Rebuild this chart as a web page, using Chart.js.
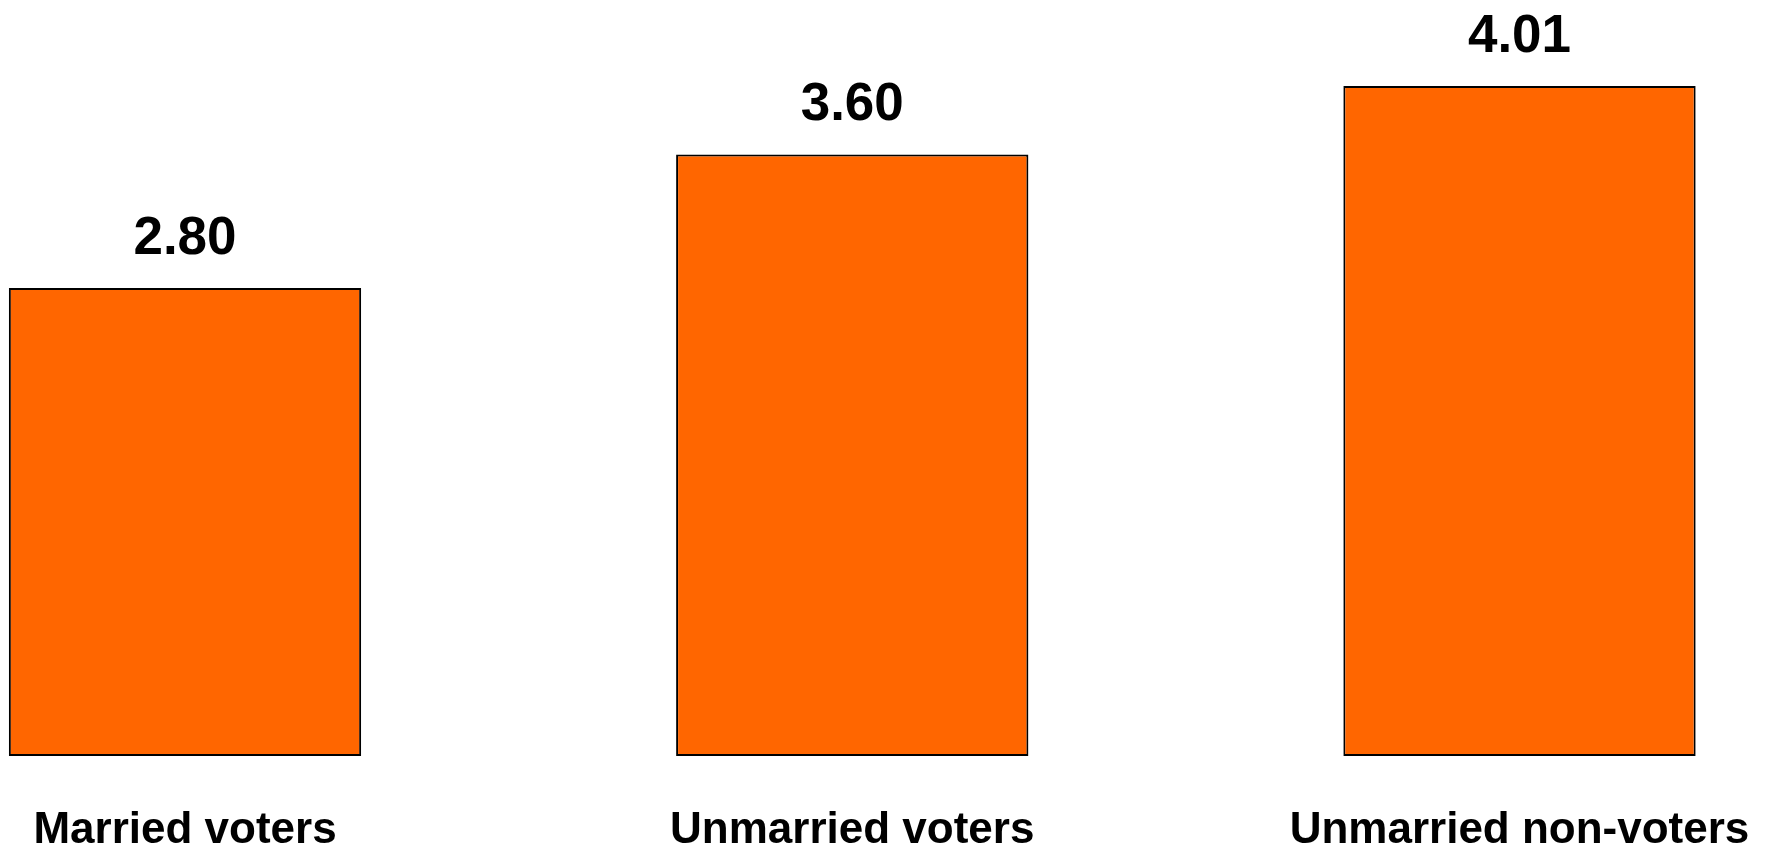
<!DOCTYPE html>
<html>
<head>
<meta charset="utf-8">
<script src="https://cdn.jsdelivr.net/npm/chart.js@4/dist/chart.umd.min.js"></script>
<style>
  html, body { margin: 0; padding: 0; background: #fff; overflow: hidden; }
  canvas { display: block; }
</style>
</head>
<body>
<canvas id="chart" width="1769" height="848"></canvas>
<script>
var categories = ['Married voters', 'Unmarried voters', 'Unmarried non-voters'];
var values = [2.80, 3.60, 4.01];

var FONT = '"Liberation Sans", Arial, sans-serif';

// numbers above each bar
var valueLabels = {
  id: 'valueLabels',
  afterDatasetsDraw: function (chart) {
    var ctx = chart.ctx;
    var meta = chart.getDatasetMeta(0);
    ctx.save();
    ctx.font = 'bold 53px ' + FONT;
    ctx.fillStyle = '#000';
    ctx.textAlign = 'center';
    ctx.textBaseline = 'alphabetic';
    meta.data.forEach(function (bar, i) {
      ctx.fillText(values[i].toFixed(2), bar.x, bar.y - 34);
    });
    ctx.restore();
  }
};

var ctx = document.getElementById('chart');
var myChart = new Chart(ctx, {
  type: 'bar',
  data: {
    labels: categories,
    datasets: [{
      data: values,
      backgroundColor: '#FF6600',
      borderColor: '#000',
      borderWidth: 2,
      borderSkipped: false,
      barPercentage: 0.528,
      categoryPercentage: 1,
      clip: false
    }]
  },
  options: {
    responsive: false,
    animation: false,
    layout: {
      padding: { left: 185, right: 249.5, top: 4, bottom: 0 }
    },
    plugins: {
      legend: { display: false },
      tooltip: { enabled: false }
    },
    scales: {
      x: {
        offset: false,
        // invisible tick marks push the labels down below the bars
        grid: {
          display: true,
          drawOnChartArea: false,
          drawTicks: true,
          tickLength: 48,
          color: 'rgba(0,0,0,0)'
        },
        border: { display: false },
        ticks: {
          autoSkip: false,
          maxRotation: 0,
          padding: 0,
          color: '#000',
          font: { family: FONT, size: 44, weight: 'bold' }
        },
        afterFit: function (scale) {
          scale.height = 92;
        }
      },
      y: {
        display: false,
        min: 0,
        max: 4.5
      }
    }
  },
  plugins: [valueLabels]
});
</script>
</body>
</html>
